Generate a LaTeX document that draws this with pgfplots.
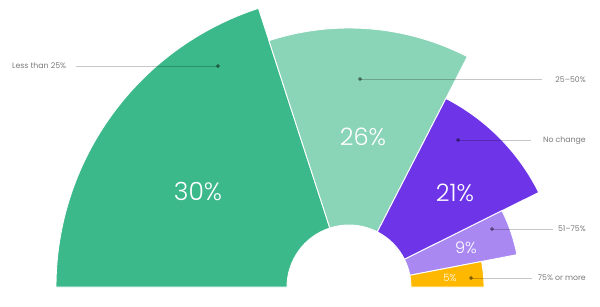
\documentclass[border=0pt]{standalone}
\usepackage{pgfplots}
\pgfplotsset{compat=1.18}
\usepackage{fontspec}
\setmainfont{Poppins}
\newfontfamily\lightfont{Poppins}[UprightFont=* Light]
\definecolor{cA}{HTML}{3BB98A}
\definecolor{cB}{HTML}{8AD4B7}
\definecolor{cC}{HTML}{6E34E8}
\definecolor{cD}{HTML}{AA88F2}
\definecolor{cE}{HTML}{FFB800}
\definecolor{lblgray}{HTML}{7A7A7A}
% sector: start angle, end angle, outer radius, colour (centre 349,19; inner radius 62)
\newcommand\sector[4]{%
  \fill[#4, draw=white, line width=0.9pt] (axis cs:349,19) ++(#1:#3pt) arc[start angle=#1, end angle=#2, radius=#3pt]
    -- ([shift={(#2:62pt)}]axis cs:349,19) arc[start angle=#2, end angle=#1, radius=62pt] -- cycle;}
\pgfplotsset{leader/.style={black, opacity=0.22, line width=0.7pt, mark=*, mark size=1.6pt, mark options={fill=black, draw=none, opacity=0.35}}}
\begin{document}
\begin{tikzpicture}
\begin{axis}[x=1pt, y=1pt, xmin=0, xmax=600, ymin=0, ymax=306, hide axis, clip=false]
\coordinate (bl) at (axis cs:0,0);
\coordinate (tr) at (axis cs:600,306);
% values: 30, 26, 21, 9, 5 (%)
\sector{108}{180}{293}{cA}
\sector{62.8}{108}{259}{cB}
\sector{26.5}{62.8}{212}{cC}
\sector{10.9}{26.5}{171}{cD}
\sector{0}{10.9}{135}{cE}
% leader lines
\addplot[leader, mark indices={2}] coordinates {(76,240) (218,240)};
\addplot[leader, mark indices={1}] coordinates {(360,227) (542,227)};
\addplot[leader, mark indices={1}] coordinates {(458,166) (531,166)};
\addplot[leader, mark indices={1}] coordinates {(492,77) (553,77)};
\addplot[leader, mark indices={1}] coordinates {(471,28) (532,28)};
% category labels
\node[anchor=west, text=lblgray, font=\fontsize{7.8}{9}\selectfont, inner sep=0pt] at (axis cs:12,240) {Less than 25\%};
\node[anchor=east, text=lblgray, font=\fontsize{7.8}{9}\selectfont, inner sep=0pt] at (axis cs:586,226) {25--50\%};
\node[anchor=east, text=lblgray, font=\fontsize{7.8}{9}\selectfont, inner sep=0pt] at (axis cs:586,165) {No change};
\node[anchor=east, text=lblgray, font=\fontsize{7.8}{9}\selectfont, inner sep=0pt] at (axis cs:586,77) {51--75\%};
\node[anchor=east, text=lblgray, font=\fontsize{7.8}{9}\selectfont, inner sep=0pt] at (axis cs:586,28) {75\% or more};
% value labels
\node[text=white, font=\lightfont\fontsize{25}{27}\selectfont] at (axis cs:198,114) {30\%};
\node[text=white, font=\lightfont\fontsize{24}{26}\selectfont] at (axis cs:363,169) {26\%};
\node[text=white, font=\lightfont\fontsize{24}{26}\selectfont] at (axis cs:455,113) {21\%};
\node[text=white, font=\lightfont\fontsize{16}{18}\selectfont] at (axis cs:466,58) {9\%};
\node[text=white, font=\lightfont\fontsize{10}{12}\selectfont] at (axis cs:450,28) {5\%};
\end{axis}
\pgfresetboundingbox
\path[use as bounding box] (bl) rectangle (tr);
\end{tikzpicture}
\end{document}
